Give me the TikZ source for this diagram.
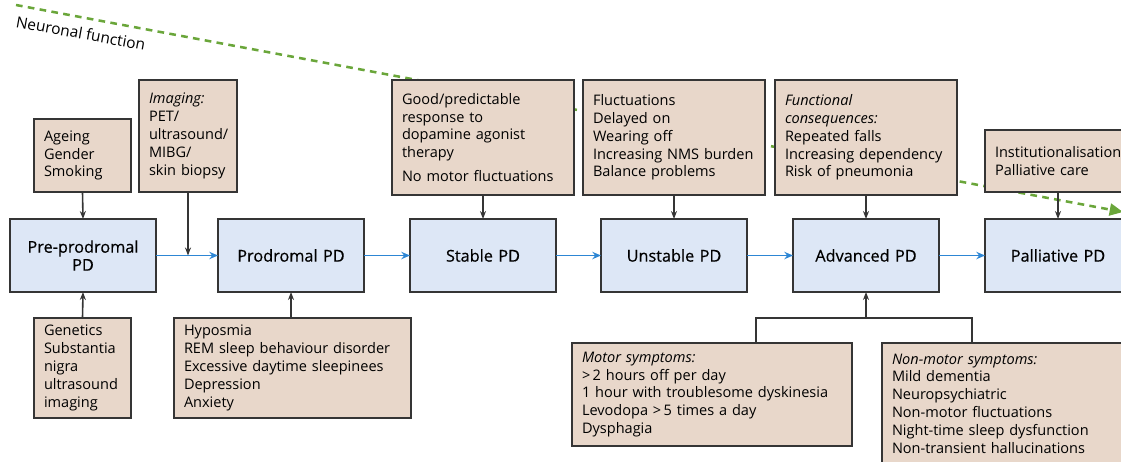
\documentclass[tikz,border=0pt]{standalone}
\usepackage{fontspec}
\setmainfont{Open Sans}
\newfontfamily\stagefont{Open Sans}[FakeBold=0.5]
\usetikzlibrary{arrows.meta}

\definecolor{infofill}{HTML}{E8D7CA}
\definecolor{stagefill}{HTML}{DDE7F6}
\definecolor{edgegray}{HTML}{353535}
\definecolor{flowblue}{HTML}{2D86D4}
\definecolor{neurogreen}{HTML}{6AA63A}

\tikzset{
  boxbase/.style={draw=edgegray, line width=1pt, anchor=north west,
    inner sep=0pt, outer sep=0pt},
  info/.style 2 args={boxbase, fill=infofill, align=left,
    minimum width=#1*0.75pt, minimum height=#2*0.75pt,
    text width=(#1-20)*0.75pt,
    font=\fontsize{10.9}{13.35}\selectfont},
  stage/.style={boxbase, fill=stagefill, align=center,
    minimum width=146*0.75pt, minimum height=73*0.75pt,
    text width=136*0.75pt,
    font=\stagefont\fontsize{12.2}{13.5}\selectfont},
  conn/.style={draw=edgegray, line width=1.2pt,
    -{Stealth[length=6pt,width=4.5pt]}},
  bracketline/.style={draw=edgegray, line width=1.2pt},
  flow/.style={draw=flowblue, line width=1.4pt,
    -{Stealth[length=6.5pt,width=5.5pt]}},
  neuroline/.style={draw=neurogreen, line width=1.9pt,
    dash pattern=on 5pt off 4pt,
    -{Triangle[length=10pt,width=9pt]}},
  neurolabel/.style={font=\fontsize{11.6}{13.35}\selectfont,
    rotate=-10.3, anchor=base west, inner sep=0pt}
}

\begin{document}
\begin{tikzpicture}[x=0.75pt, y=-0.75pt]
  \useasboundingbox (0,0) rectangle (1121,461);
  \clip (0,0) rectangle (1121,461);

  % falling neuronal function, behind everything else
  \coordinate (nstart) at (16,5);
  \coordinate (nend) at (1123,212);
  \draw[neuroline] (nstart) -- (nend);
  \node[neurolabel] (nlabel) at (15,27) {Neuronal function};

  % disease stages
  \node[stage] (pre)    at (10,219)  {Pre-prodromal\\PD};
  \node[stage] (prod)   at (218,219) {Prodromal PD};
  \node[stage] (stable) at (410,219) {Stable PD};
  \node[stage] (unst)   at (601,219) {Unstable PD};
  \node[stage] (adv)    at (793,219) {Advanced PD};
  \node[stage] (pall)   at (985,219) {Palliative PD};

  % upper information boxes
  \node[info={97}{73}]   (ageing)  at (34,119)  {Ageing\\Gender\\Smoking};
  \node[info={98}{112}]  (imaging) at (139,80)  {{\itshape Imaging:}\\PET/\\ultrasound/\\MIBG/\\skin biopsy};
  \node[info={182}{115}] (good)    at (392,80)  {Good/predictable\\response to\\dopamine agonist\\therapy\\[4.5pt]No motor fluctuations};
  \node[info={182}{115}] (fluct)   at (583,80)  {Fluctuations\\Delayed on\\Wearing off\\Increasing NMS burden\\Balance problems};
  \node[info={182}{115}] (func)    at (775,80)  {{\itshape Functional}\\{\itshape consequences:}\\Repeated falls\\Increasing dependency\\Risk of pneumonia};
  \node[info={170}{62}]  (inst)    at (985,130) {Institutionalisation\\Palliative care};

  % lower information boxes
  \node[info={97}{100}]  (genetics) at (34,318)  {Genetics\\Substantia\\nigra\\ultrasound\\imaging};
  \node[info={237}{100}] (hypos)    at (174,318) {Hyposmia\\REM sleep behaviour disorder\\Excessive daytime sleepinees\\Depression\\Anxiety};
  \node[info={280}{103}] (motor)    at (572,343) {{\itshape Motor symptoms:}\\{>}\,2 hours off per day\\1 hour with troublesome dyskinesia\\Levodopa {>}\,5 times a day\\Dysphagia};
  \node[info={280}{121}] (nonmotor) at (882,343) {{\itshape Non-motor symptoms:}\\Mild dementia\\Neuropsychiatric\\Non-motor fluctuations\\Night-time sleep dysfunction\\Non-transient hallucinations};

  % progression between stages
  \draw[flow] (pre.east)    -- (prod.west);
  \draw[flow] (prod.east)   -- (stable.west);
  \draw[flow] (stable.east) -- (unst.west);
  \draw[flow] (unst.east)   -- (adv.west);
  \draw[flow] (adv.east)    -- (pall.west);

  % contributing factors
  \draw[conn] (ageing.south) -- (pre.north);
  \draw[conn] (imaging.south) -- (imaging.south |- pre.east);
  \draw[conn] (stable.north |- good.south) -- (stable.north);
  \draw[conn] (unst.north |- fluct.south) -- (unst.north);
  \draw[conn] (adv.north |- func.south) -- (adv.north);
  \draw[conn] (pall.north |- inst.south) -- (pall.north);
  \draw[conn] (genetics.north) -- (pre.south);
  \draw[conn] (prod.south |- hypos.north) -- (prod.south);

  % symptom bracket feeding advanced PD
  \coordinate (bl) at (756,318);
  \coordinate (br) at (972,318);
  \draw[bracketline] (motor.north -| bl) -- (bl) -- (br) -- (nonmotor.north -| br);
  \draw[conn] (adv.south |- bl) -- (adv.south);
\end{tikzpicture}
\end{document}
